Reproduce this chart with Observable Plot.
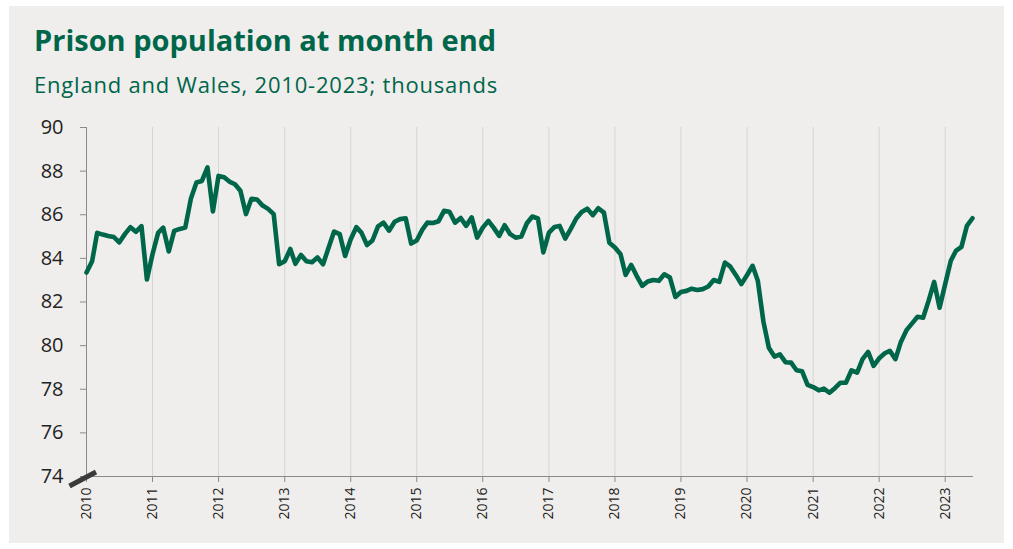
<!DOCTYPE html>
<html>
<head>
<meta charset="utf-8">
<script src="https://cdn.jsdelivr.net/npm/d3@7"></script>
<script src="https://cdn.jsdelivr.net/npm/@observablehq/plot@0.6"></script>
<style>
  html, body { margin: 0; padding: 0; background: #ffffff; }
  #wrap { position: relative; width: 1013px; height: 549px; overflow: hidden; }
  #panel { position: absolute; left: 9px; top: 6px; width: 995px; height: 537px; background: #efeeec; }
  #title { position: absolute; left: 34px; top: 20px; font-family: "Open Sans", sans-serif; font-weight: 700; font-size: 29px; color: #00664a; white-space: nowrap; letter-spacing: 0px; }
  #subtitle { position: absolute; left: 34px; top: 69px; font-family: "Open Sans", sans-serif; font-weight: 400; font-size: 22px; color: #00664a; white-space: nowrap; letter-spacing: 0.8px; }
  #chart { position: absolute; left: 0; top: 0; }
  #chart svg text { fill: #222; }
</style>
</head>
<body>
<div id="wrap">
  <div id="panel"></div>
  <div id="chart"></div>
  <div id="title">Prison population at month end</div>
  <div id="subtitle">England and Wales, 2010-2023; thousands</div>
</div>
<script>
// Month-end prison population (thousands), by year, January onward
const v2010 = [83.35, 83.87, 85.17, 85.09, 85.03, 84.98, 84.73, 85.11, 85.43, 85.22, 85.48, 83.03];
const v2011 = [84.19, 85.17, 85.41, 84.32, 85.26, 85.35, 85.41, 86.73, 87.48, 87.55, 88.17, 86.15];
const v2012 = [87.78, 87.72, 87.52, 87.40, 87.10, 86.03, 86.73, 86.70, 86.42, 86.27, 86.03, 83.73];
const v2013 = [83.87, 84.43, 83.75, 84.16, 83.87, 83.82, 84.04, 83.73, 84.50, 85.23, 85.11, 84.11];
const v2014 = [84.88, 85.43, 85.18, 84.61, 84.82, 85.47, 85.64, 85.27, 85.68, 85.80, 85.84, 84.68];
const v2015 = [84.82, 85.32, 85.64, 85.62, 85.70, 86.18, 86.14, 85.64, 85.85, 85.49, 85.88, 84.95];
const v2016 = [85.41, 85.72, 85.41, 85.03, 85.52, 85.11, 84.95, 85.00, 85.61, 85.92, 85.83, 84.27];
const v2017 = [85.18, 85.44, 85.49, 84.91, 85.34, 85.83, 86.13, 86.28, 85.98, 86.30, 86.10, 84.72];
const v2018 = [84.50, 84.19, 83.24, 83.70, 83.20, 82.74, 82.94, 83.01, 82.97, 83.27, 83.12, 82.23];
const v2019 = [82.46, 82.51, 82.61, 82.55, 82.59, 82.71, 83.01, 82.92, 83.81, 83.62, 83.23, 82.82];
const v2020 = [83.23, 83.66, 82.97, 81.10, 79.90, 79.50, 79.60, 79.24, 79.22, 78.87, 78.82, 78.20];
const v2021 = [78.10, 77.95, 78.03, 77.84, 78.05, 78.30, 78.30, 78.87, 78.76, 79.38, 79.71, 79.07];
const v2022 = [79.42, 79.65, 79.76, 79.38, 80.17, 80.71, 81.01, 81.32, 81.28, 82.05, 82.92, 81.74];
const v2023 = [82.82, 83.89, 84.34, 84.53, 85.49, 85.84];

const years = [2010, 2011, 2012, 2013, 2014, 2015, 2016, 2017, 2018, 2019, 2020, 2021, 2022, 2023];
const yTicks = [74, 76, 78, 80, 82, 84, 86, 88, 90];
const yearValues = [v2010, v2011, v2012, v2013, v2014, v2015, v2016, v2017, v2018, v2019, v2020, v2021, v2022, v2023];

const data = [];
yearValues.forEach((vals, i) => {
  vals.forEach((v, m) => data.push({date: new Date(Date.UTC(years[i], m, 1)), value: v}));
});
const yearDates = years.map(y => new Date(Date.UTC(y, 0, 1)));

const plot = Plot.plot({
  width: 1013,
  height: 549,
  marginLeft: 86,
  marginRight: 41,
  marginTop: 127,
  marginBottom: 73,
  style: {background: "transparent", color: "#8a8a8a", fontFamily: "'Open Sans', sans-serif", overflow: "visible"},
  x: {
    type: "utc",
    domain: [data[0].date, data[data.length - 1].date],
    ticks: yearDates,
    tickFormat: d3.utcFormat("%Y"),
    tickRotate: -90,
    tickSize: 6,
    tickPadding: 5,
    line: true,
    label: null
  },
  y: {
    domain: [74, 90],
    ticks: yTicks,
    tickSize: 6,
    tickPadding: 17,
    line: true,
    label: null
  },
  marks: [
    Plot.ruleX(yearDates.slice(1), {stroke: "#d6d5d3", strokeWidth: 1}),
    Plot.line(data, {x: "date", y: "value", stroke: "#00664a", strokeWidth: 4.6, strokeLinejoin: "round", strokeLinecap: "round"})
  ]
});

document.getElementById("chart").appendChild(plot);

// font sizes for axis labels
const sy = plot.scale("y"), sx = plot.scale("x");
d3.select(plot).selectAll("g[aria-label^='y-axis'] text").style("font-size", "20px");
d3.select(plot).selectAll("g[aria-label^='x-axis'] text").style("font-size", "14px");

// axis-break marker at the origin
const ox = sx.apply(data[0].date), oy = sy.apply(74);
d3.select(plot).append("line")
  .attr("x1", ox - 16.5).attr("y1", oy + 10)
  .attr("x2", ox + 10).attr("y2", oy - 4)
  .attr("stroke", "#3a3a3a").attr("stroke-width", 5);
</script>
</body>
</html>
